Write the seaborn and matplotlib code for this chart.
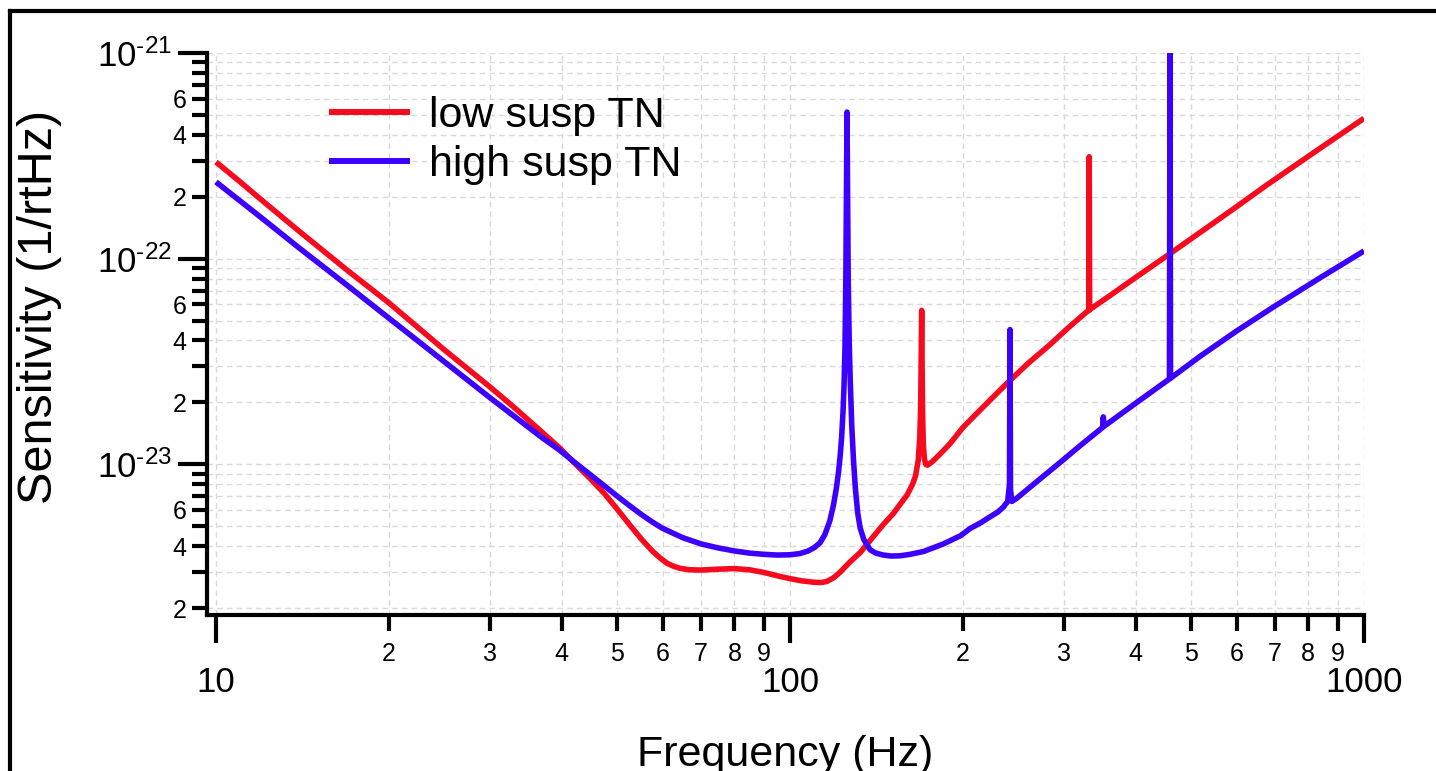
import numpy as np
import pandas as pd
import matplotlib
matplotlib.use("Agg")
import matplotlib.pyplot as plt
import seaborn as sns
from matplotlib.ticker import LogLocator, FuncFormatter
from matplotlib.lines import Line2D

# ---------------- data ----------------
series_names = ["low susp TN", "high susp TN"]

red_freq = [10, 11, 12, 14, 17, 20, 25, 30, 33, 36.7, 39.7, 42.5, 45, 47.5, 50, 52.5, 55,
            57.5, 59.4, 61.1, 62.6, 64.3, 66.9, 70, 75, 80, 85, 90, 95, 100, 105, 110, 113,
            115.8, 119, 122.3, 127.2, 132.5, 139.5, 145, 151.5, 155.6, 160, 163.5, 165.5,
            167.3, 168.3, 168.9, 169.3, 169.6, 169.9, 170.2, 170.7, 171.5, 172.4, 173.5,
            177, 182.5, 190, 200.1, 215, 238.5, 260, 283.8, 305, 328.7, 331.6, 332.1, 332.7,
            360, 396.1, 453, 518, 600, 676.9, 821.6, 1000]
red_vals = [2.95e-22, 2.37e-22, 1.93e-22, 1.35e-22, 8.7e-23, 6.1e-23, 3.6e-23, 2.38e-23,
            1.90e-23, 1.46e-23, 1.20e-23, 9.9e-24, 8.45e-24, 7.2e-24, 6.05e-24, 5.1e-24,
            4.35e-24, 3.8e-24, 3.5e-24, 3.3e-24, 3.2e-24, 3.12e-24, 3.07e-24, 3.06e-24,
            3.09e-24, 3.11e-24, 3.07e-24, 2.98e-24, 2.87e-24, 2.78e-24, 2.71e-24, 2.67e-24,
            2.66e-24, 2.69e-24, 2.80e-24, 2.99e-24, 3.35e-24, 3.72e-24, 4.43e-24, 5.05e-24,
            5.78e-24, 6.4e-24, 7.1e-24, 8.0e-24, 8.8e-24, 1.05e-23, 1.35e-23, 1.9e-23,
            3.5e-23, 5.6e-23, 3.0e-23, 1.8e-23, 1.25e-23, 1.06e-23, 1.0e-23, 9.9e-24,
            1.03e-23, 1.12e-23, 1.26e-23, 1.51e-23, 1.85e-23, 2.47e-23, 3.1e-23, 3.82e-23,
            4.6e-23, 5.51e-23, 5.6e-23, 3.13e-22, 5.65e-23, 6.58e-23, 7.94e-23, 1.03e-22,
            1.34e-22, 1.79e-22, 2.28e-22, 3.31e-22, 4.81e-22]

blue_freq = [10, 12, 14, 17, 20, 25, 30, 36.7, 39.7, 42, 45, 47.5, 50, 52.5, 55, 57.5, 60,
             65, 70, 75, 80, 85, 90, 95, 100, 104, 107.3, 110, 112.8, 115, 117.3, 119,
             120.4, 121.5, 122.3, 123.0, 123.7, 124.2, 124.7, 125.1, 125.4, 125.7, 126.0,
             126.3, 126.8, 127.3, 128.1, 129.0, 130.0, 131.2, 132.5, 134.5, 137.8, 141,
             145.4, 150, 155.6, 162, 171, 185, 198.3, 205.9, 215, 223, 230, 235.3, 239.5,
             241.2, 241.7, 242.2, 243.5, 247.9, 270, 295.4, 320, 350.4, 351.4, 352.4, 400,
             458.2, 459.2, 460.2, 518, 600, 694, 838, 1000]
blue_vals = [2.36e-22, 1.58e-22, 1.12e-22, 7.35e-23, 5.14e-23, 3.15e-23, 2.11e-23, 1.37e-23,
             1.17e-23, 1.03e-23, 8.85e-24, 7.85e-24, 7.0e-24, 6.3e-24, 5.72e-24, 5.25e-24,
             4.88e-24, 4.4e-24, 4.1e-24, 3.92e-24, 3.79e-24, 3.70e-24, 3.65e-24, 3.62e-24,
             3.63e-24, 3.68e-24, 3.78e-24, 3.92e-24, 4.15e-24, 4.55e-24, 5.3e-24, 6.3e-24,
             7.6e-24, 9.2e-24, 1.1e-23, 1.35e-23, 1.8e-23, 2.4e-23, 3.8e-23, 8.0e-23,
             2.0e-22, 5.16e-22, 2.0e-22, 8.0e-23, 4.0e-23, 2.6e-23, 1.55e-23, 1.05e-23,
             7.6e-24, 5.8e-24, 4.9e-24, 4.3e-24, 3.85e-24, 3.70e-24, 3.62e-24, 3.58e-24,
             3.59e-24, 3.65e-24, 3.77e-24, 4.1e-24, 4.5e-24, 4.87e-24, 5.2e-24, 5.55e-24,
             5.85e-24, 6.19e-24, 6.6e-24, 8.0e-24, 4.52e-23, 7.5e-24, 6.6e-24, 6.81e-24,
             8.3e-24, 1.02e-23, 1.23e-23, 1.51e-23, 1.70e-23, 1.53e-23, 1.98e-23, 2.60e-23,
             1.05e-21, 2.62e-23, 3.35e-23, 4.45e-23, 5.8e-23, 8.06e-23, 1.09e-22]

y_minor_labelled = [2, 4, 6]
x_label = "Frequency (Hz)"
y_label = "Sensitivity (1/rtHz)"

RED = "#F80A1E"
BLUE = "#3C00FF"

# ---------------- style ----------------
sns.set_theme(style="white")
plt.rcParams["font.family"] = ["Liberation Sans", "DejaVu Sans"]
plt.rcParams["mathtext.fontset"] = "custom"
plt.rcParams["mathtext.rm"] = "Liberation Sans"
plt.rcParams["mathtext.it"] = "Liberation Sans:italic"
plt.rcParams["mathtext.bf"] = "Liberation Sans:bold"
plt.rcParams["text.color"] = "black"
plt.rcParams["axes.labelcolor"] = "black"

df = pd.concat([
    pd.DataFrame({"Frequency": red_freq, "Sensitivity": red_vals, "series": series_names[0]}),
    pd.DataFrame({"Frequency": blue_freq, "Sensitivity": blue_vals, "series": series_names[1]}),
], ignore_index=True)

W, H = 1436, 771
fig = plt.figure(figsize=(W / 100, H / 100), dpi=100)
ax = fig.add_axes([207 / W, 1 - 615 / H, (1364 - 207) / W, (615 - 53) / H])
ax.set_xscale("log")
ax.set_yscale("log")

sns.lineplot(data=df, x="Frequency", y="Sensitivity", hue="series",
             hue_order=series_names, palette=[RED, BLUE], sort=False,
             estimator=None, linewidth=4.0, solid_joinstyle="round",
             solid_capstyle="butt", ax=ax)

ax.set_xlim(9.645, 1000)
ax.set_ylim(1.85e-24, 1e-21)

# ticks
ax.xaxis.set_major_locator(LogLocator(base=10, numticks=20))
ax.xaxis.set_minor_locator(LogLocator(base=10, subs=np.arange(2, 10), numticks=100))
ax.yaxis.set_major_locator(LogLocator(base=10, numticks=20))
ax.yaxis.set_minor_locator(LogLocator(base=10, subs=np.arange(2, 10), numticks=100))


def mantissa(v):
    e = np.floor(np.log10(v) + 1e-9)
    return int(round(v / 10 ** e))


ax.xaxis.set_major_formatter(FuncFormatter(lambda v, p: f"{int(round(v))}"))
ax.xaxis.set_minor_formatter(FuncFormatter(lambda v, p: f"{mantissa(v)}"))
ax.yaxis.set_major_formatter(FuncFormatter(
    lambda v, p: "$10^{\\text{%d}}$" % int(round(np.log10(v)))))
ax.yaxis.set_minor_formatter(FuncFormatter(
    lambda v, p: f"{mantissa(v)}" if mantissa(v) in y_minor_labelled else ""))

ax.tick_params(axis="both", which="both", direction="out", color="black",
               width=3, bottom=True, left=True, labelcolor="black")
ax.tick_params(axis="x", which="major", length=20, pad=17, labelsize=25)
ax.tick_params(axis="x", which="minor", length=11.5, pad=8, labelsize=18)
ax.tick_params(axis="y", which="major", length=21, pad=4, labelsize=25)
ax.tick_params(axis="y", which="minor", length=11, pad=3.5, labelsize=18)

ax.grid(True, which="both", color="#d9d9d9", linestyle=(0, (4, 3)), linewidth=1)
sns.despine(ax=ax)
for s in ("left", "bottom"):
    ax.spines[s].set_color("black")
    ax.spines[s].set_linewidth(3)

ax.set_xlabel(x_label, fontsize=31, color="black")
ax.set_ylabel(y_label, fontsize=35, color="black")
ax.xaxis.set_label_coords(0.5, -0.2135)
ax.yaxis.set_label_coords(-0.125, 0.548)

handles, labels = ax.get_legend_handles_labels()
leg = ax.legend(handles, labels, loc="upper left", bbox_to_anchor=(0.1054, 0.9235),
                frameon=False, fontsize=31, handlelength=1.88, handletextpad=0.44,
                labelspacing=0.22, borderpad=0, borderaxespad=0)
for ln in leg.get_lines():
    ln.set_linewidth(4.3)
for t in leg.get_texts():
    t.set_color("black")

# outer frame (top and left edges visible in the reference)
yt = 1 - 11 / H
xl = 10 / W
fig.add_artist(Line2D([xl, 1.0], [yt, yt], transform=fig.transFigure, color="black",
                      linewidth=3, solid_capstyle="projecting"))
fig.add_artist(Line2D([xl, xl], [0, yt], transform=fig.transFigure, color="black",
                      linewidth=3, solid_capstyle="projecting"))

fig.savefig("out.png", dpi=100)
